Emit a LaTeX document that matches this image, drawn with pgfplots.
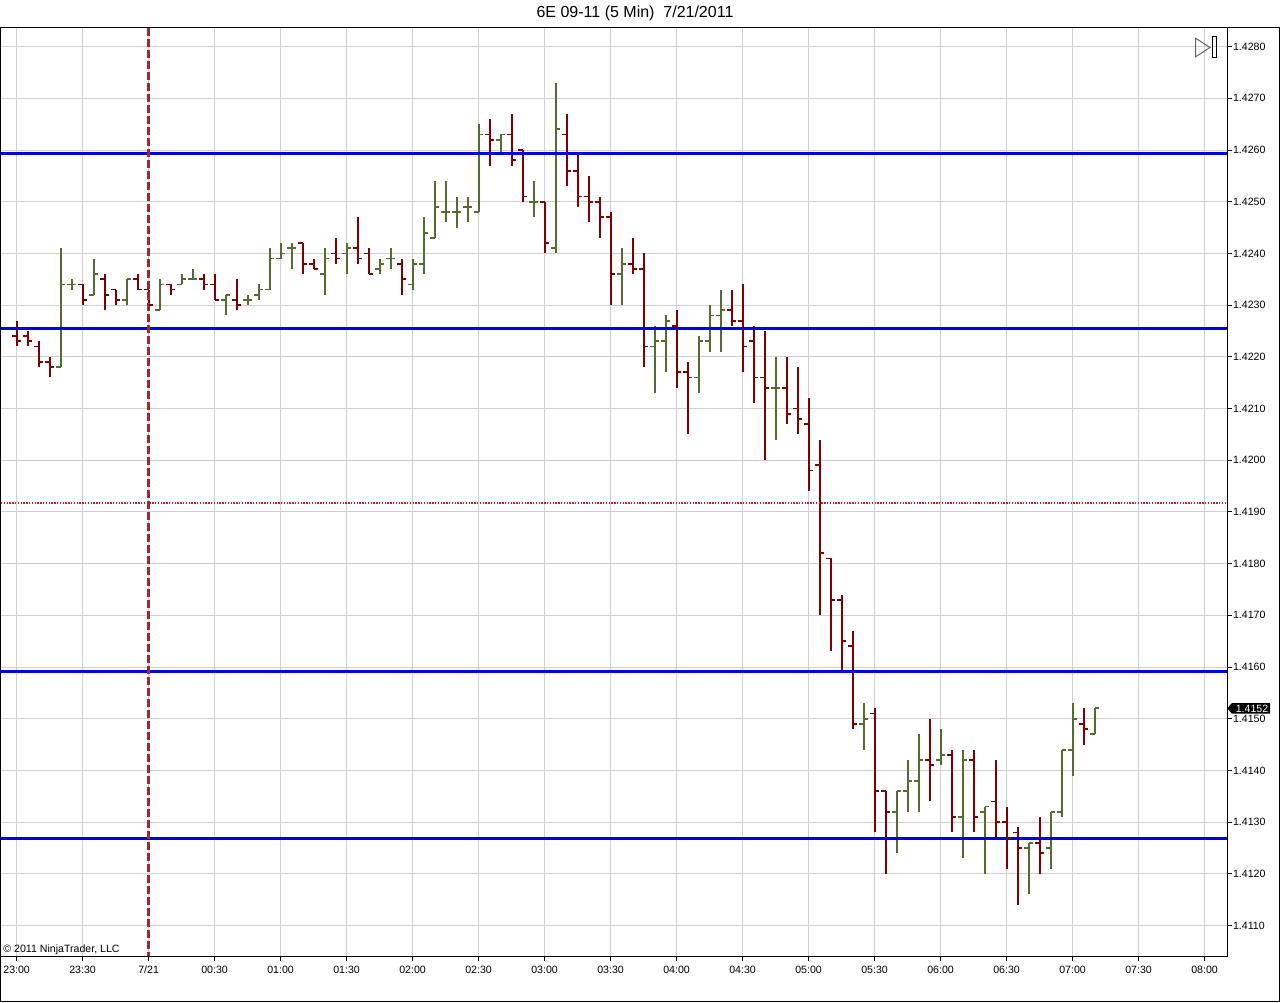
\documentclass[border=0pt]{standalone}
\usepackage{pgfplots}
\pgfplotsset{compat=1.18}
\usepackage{pgfplotstable}
\usepackage{fontspec}
\setmainfont{Liberation Sans}

\definecolor{upbar}{RGB}{85,107,47}
\definecolor{downbar}{RGB}{128,0,0}
\definecolor{pivot}{RGB}{0,0,230}
\definecolor{daysep}{RGB}{160,40,50}
\definecolor{midline}{RGB}{195,30,45}
\definecolor{gridgray}{RGB}{208,208,208}

% open tick to the left, close tick to the right
\pgfdeclareplotmark{otick}{%
  \pgfpathmoveto{\pgfpoint{-\pgfplotmarksize}{0pt}}%
  \pgfpathlineto{\pgfpoint{0pt}{0pt}}%
  \pgfusepathqstroke}
\pgfdeclareplotmark{ctick}{%
  \pgfpathmoveto{\pgfpoint{0pt}{0pt}}%
  \pgfpathlineto{\pgfpoint{\pgfplotmarksize}{0pt}}%
  \pgfusepathqstroke}

% t = minutes after 23:00, d = 1 up bar, 0 down bar
\pgfplotstableread{
t O H L C d
0 1.4224 1.4227 1.4222 1.4223 0
5 1.4224 1.4225 1.4222 1.4223 0
10 1.4222 1.4223 1.4218 1.4219 0
15 1.4219 1.4220 1.4216 1.4218 0
20 1.4218 1.4241 1.4218 1.4234 1
25 1.4234 1.4235 1.4233 1.4234 1
30 1.4234 1.4234 1.4230 1.4231 0
35 1.4232 1.4239 1.4232 1.4236 1
40 1.4235 1.4236 1.4229 1.4232 0
45 1.4233 1.4233 1.4230 1.4231 0
50 1.4231 1.4235 1.4230 1.4235 1
55 1.4235 1.4236 1.4233 1.4233 0
60 1.4233 1.4233 1.4229 1.4230 0
65 1.4229 1.4235 1.4229 1.4234 1
70 1.4234 1.4234 1.4232 1.4233 0
75 1.4234 1.4236 1.4234 1.4235 1
80 1.4235 1.4237 1.4235 1.4235 1
85 1.4235 1.4236 1.4233 1.4234 0
90 1.4234 1.4236 1.4231 1.4231 0
95 1.4231 1.4232 1.4228 1.4232 1
100 1.4231 1.4235 1.4229 1.4230 0
105 1.4231 1.4232 1.4230 1.4231 1
110 1.4232 1.4234 1.4231 1.4233 1
115 1.4233 1.4241 1.4233 1.4239 1
120 1.4239 1.4242 1.4239 1.4240 1
125 1.4241 1.4242 1.4237 1.4241 1
130 1.4242 1.4242 1.4236 1.4238 0
135 1.4238 1.4239 1.4237 1.4237 0
140 1.4236 1.4241 1.4232 1.4239 1
145 1.4240 1.4243 1.4238 1.4239 0
150 1.4240 1.4242 1.4236 1.4241 1
155 1.4241 1.4247 1.4238 1.4239 0
160 1.4240 1.4241 1.4236 1.4236 0
165 1.4237 1.4239 1.4236 1.4238 1
170 1.4239 1.4241 1.4237 1.4239 1
175 1.4238 1.4239 1.4232 1.4235 0
180 1.4234 1.4239 1.4233 1.4238 1
185 1.4238 1.4247 1.4236 1.4244 1
190 1.4243 1.4254 1.4243 1.4249 1
195 1.4248 1.4254 1.4246 1.4248 1
200 1.4248 1.4251 1.4245 1.4248 1
205 1.4249 1.4251 1.4246 1.4249 1
210 1.4248 1.4265 1.4248 1.4263 1
215 1.4263 1.4266 1.4257 1.4262 0
220 1.4262 1.4263 1.4259 1.4263 1
225 1.4263 1.4267 1.4257 1.4258 0
230 1.4260 1.4260 1.4250 1.4251 0
235 1.4250 1.4254 1.4247 1.4250 1
240 1.4250 1.4250 1.4240 1.4242 0
245 1.4241 1.4273 1.4240 1.4264 1
250 1.4263 1.4267 1.4253 1.4256 0
255 1.4256 1.4259 1.4249 1.4251 0
260 1.4251 1.4255 1.4246 1.4250 0
265 1.4250 1.4251 1.4243 1.4247 0
270 1.4247 1.4248 1.4230 1.4236 0
275 1.4236 1.4241 1.4230 1.4238 1
280 1.4238 1.4243 1.4236 1.4237 0
285 1.4237 1.4240 1.4218 1.4222 0
290 1.4222 1.4226 1.4213 1.4223 1
295 1.4223 1.4228 1.4217 1.4227 1
300 1.4226 1.4229 1.4214 1.4217 0
305 1.4217 1.4219 1.4205 1.4216 0
310 1.4216 1.4224 1.4213 1.4223 1
315 1.4223 1.4230 1.4221 1.4228 1
320 1.4228 1.4233 1.4221 1.4229 1
325 1.4229 1.4233 1.4226 1.4227 0
330 1.4227 1.4234 1.4217 1.4222 0
335 1.4223 1.4226 1.4211 1.4216 0
340 1.4216 1.4225 1.4200 1.4214 0
345 1.4214 1.4220 1.4204 1.4214 1
350 1.4214 1.4220 1.4207 1.4209 0
355 1.4210 1.4218 1.4205 1.4208 0
360 1.4207 1.4212 1.4194 1.4198 0
365 1.4199 1.4204 1.4170 1.4182 0
370 1.4181 1.4181 1.4163 1.4173 0
375 1.4173 1.4174 1.4159 1.4165 0
380 1.4164 1.4167 1.4148 1.4149 0
385 1.4149 1.4153 1.4144 1.4150 1
390 1.4151 1.4152 1.4128 1.4136 0
395 1.4136 1.4136 1.4120 1.4132 0
400 1.4132 1.4136 1.4124 1.4136 1
405 1.4136 1.4142 1.4132 1.4138 1
410 1.4138 1.4147 1.4132 1.4142 1
415 1.4142 1.4150 1.4134 1.4141 0
420 1.4142 1.4148 1.4141 1.4143 1
425 1.4143 1.4144 1.4128 1.4131 0
430 1.4131 1.4144 1.4123 1.4142 1
435 1.4142 1.4144 1.4128 1.4131 0
440 1.4132 1.4133 1.4120 1.4133 1
445 1.4134 1.4142 1.4127 1.4130 0
450 1.4130 1.4133 1.4121 1.4127 0
455 1.4128 1.4129 1.4114 1.4125 0
460 1.4125 1.4126 1.4116 1.4126 1
465 1.4126 1.4131 1.4120 1.4124 0
470 1.4125 1.4132 1.4121 1.4132 1
475 1.4132 1.4144 1.4131 1.4144 1
480 1.4144 1.4153 1.4139 1.4150 1
485 1.4149 1.4152 1.4145 1.4148 0
490 1.4147 1.4152 1.4147 1.4152 1
}\bars

\pgfplotsset{
  bar range/.style={draw=none, mark=none,
    restrict expr to domain={\thisrow{d}}{#1},
    error bars/.cd, y dir=plus, y explicit, error mark=none},
  bar tick/.style={only marks, mark size=2.2pt, line width=0.9pt,
    restrict expr to domain={\thisrow{d}}{#1}},
}

\begin{document}
\begin{tikzpicture}
\useasboundingbox (-0.5pt,-23pt) rectangle (639.5pt,478pt);
\begin{axis}[
  at={(0pt,0pt)}, anchor=south west,
  scale only axis, width=613pt, height=464pt,
  xmin=-7.1, xmax=550.2,
  ymin=1.41041, ymax=1.42836,
  axis line style={black, line width=0.5pt},
  xtick={0,30,...,540},
  xticklabels={23:00,23:30,7/21,00:30,01:00,01:30,02:00,02:30,03:00,03:30,04:00,04:30,05:00,05:30,06:00,06:30,07:00,07:30,08:00},
  ytick={1.411,1.412,1.413,1.414,1.415,1.416,1.417,1.418,1.419,1.420,1.421,1.422,1.423,1.424,1.425,1.426,1.427,1.428},
  scaled y ticks=false,
  yticklabel style={/pgf/number format/fixed, /pgf/number format/fixed zerofill, /pgf/number format/precision=4, xshift=-3pt},
  xticklabel style={yshift=1pt},
  /pgf/number format/assume math mode=true,
  ticklabel style={font=\fontsize{5.3}{6}\selectfont},
  tick align=outside, major tick length=2.5pt,
  tick style={black, line width=0.5pt},
  xtick pos=left, ytick pos=right, yticklabel pos=right,
  grid=major, major grid style={draw=gridgray, line width=0.5pt},
]
% down bars
\addplot[bar range={-0.5:0.5}, error bar style={draw=downbar, line width=1pt}]
  table[x=t, y=L, y error expr=\thisrow{H}-\thisrow{L}] {\bars};
\addplot[bar tick={-0.5:0.5}, color=downbar, mark=otick] table[x=t, y=O] {\bars};
\addplot[bar tick={-0.5:0.5}, color=downbar, mark=ctick] table[x=t, y=C] {\bars};
% up bars
\addplot[bar range={0.5:1.5}, error bar style={draw=upbar, line width=1pt}]
  table[x=t, y=L, y error expr=\thisrow{H}-\thisrow{L}] {\bars};
\addplot[bar tick={0.5:1.5}, color=upbar, mark=otick] table[x=t, y=O] {\bars};
\addplot[bar tick={0.5:1.5}, color=upbar, mark=ctick] table[x=t, y=C] {\bars};

% pivot levels
\addplot[pivot, line width=1.4pt] coordinates {(-7.1,1.42593) (550.2,1.42593)};
\addplot[pivot, line width=1.4pt] coordinates {(-7.1,1.42254) (550.2,1.42254)};
\addplot[pivot, line width=1.4pt] coordinates {(-7.1,1.41592) (550.2,1.41592)};
\addplot[pivot, line width=1.4pt] coordinates {(-7.1,1.41269) (550.2,1.41269)};
\addplot[midline, line width=1pt, dash pattern=on 0.7pt off 0.7pt] coordinates {(-7.1,1.41917) (550.2,1.41917)};
% session break
\addplot[daysep, line width=1.5pt, dash pattern=on 4pt off 1.5pt] coordinates {(60,1.42836) (60,1.41041)};

\coordinate (lp) at (axis cs:550.2,1.4152);
\end{axis}

% outer frame
\draw[black, line width=0.5pt] (0pt,-22.5pt) rectangle (639pt,464pt);
\node[font=\fontsize{8}{9}\selectfont, inner sep=0pt] at (317pt,471.5pt) {6E 09-11 (5 Min)\ \ 7/21/2011};
\node[anchor=base west, font=\fontsize{5.3}{6}\selectfont, inner sep=0pt] at (1pt,1.8pt) {© 2011 NinjaTrader, LLC};

% last price marker
\fill[black] (lp) -- ++(2.5pt,2.65pt) -- ++(19pt,0pt) -- ++(0pt,-5.3pt) -- ++(-19pt,0pt) -- cycle;
\node[white, font=\fontsize{5.3}{6}\selectfont, inner sep=0pt] at ([xshift=12.5pt]lp) {1.4152};

% play button
\draw[black!60, line width=0.5pt] (597.35pt,458.85pt) -- (597.35pt,449.65pt) -- (604.5pt,454.25pt) -- cycle;
\draw[black, line width=0.5pt] (605.65pt,449.35pt) rectangle (607.85pt,459.65pt);
\end{tikzpicture}
\end{document}
